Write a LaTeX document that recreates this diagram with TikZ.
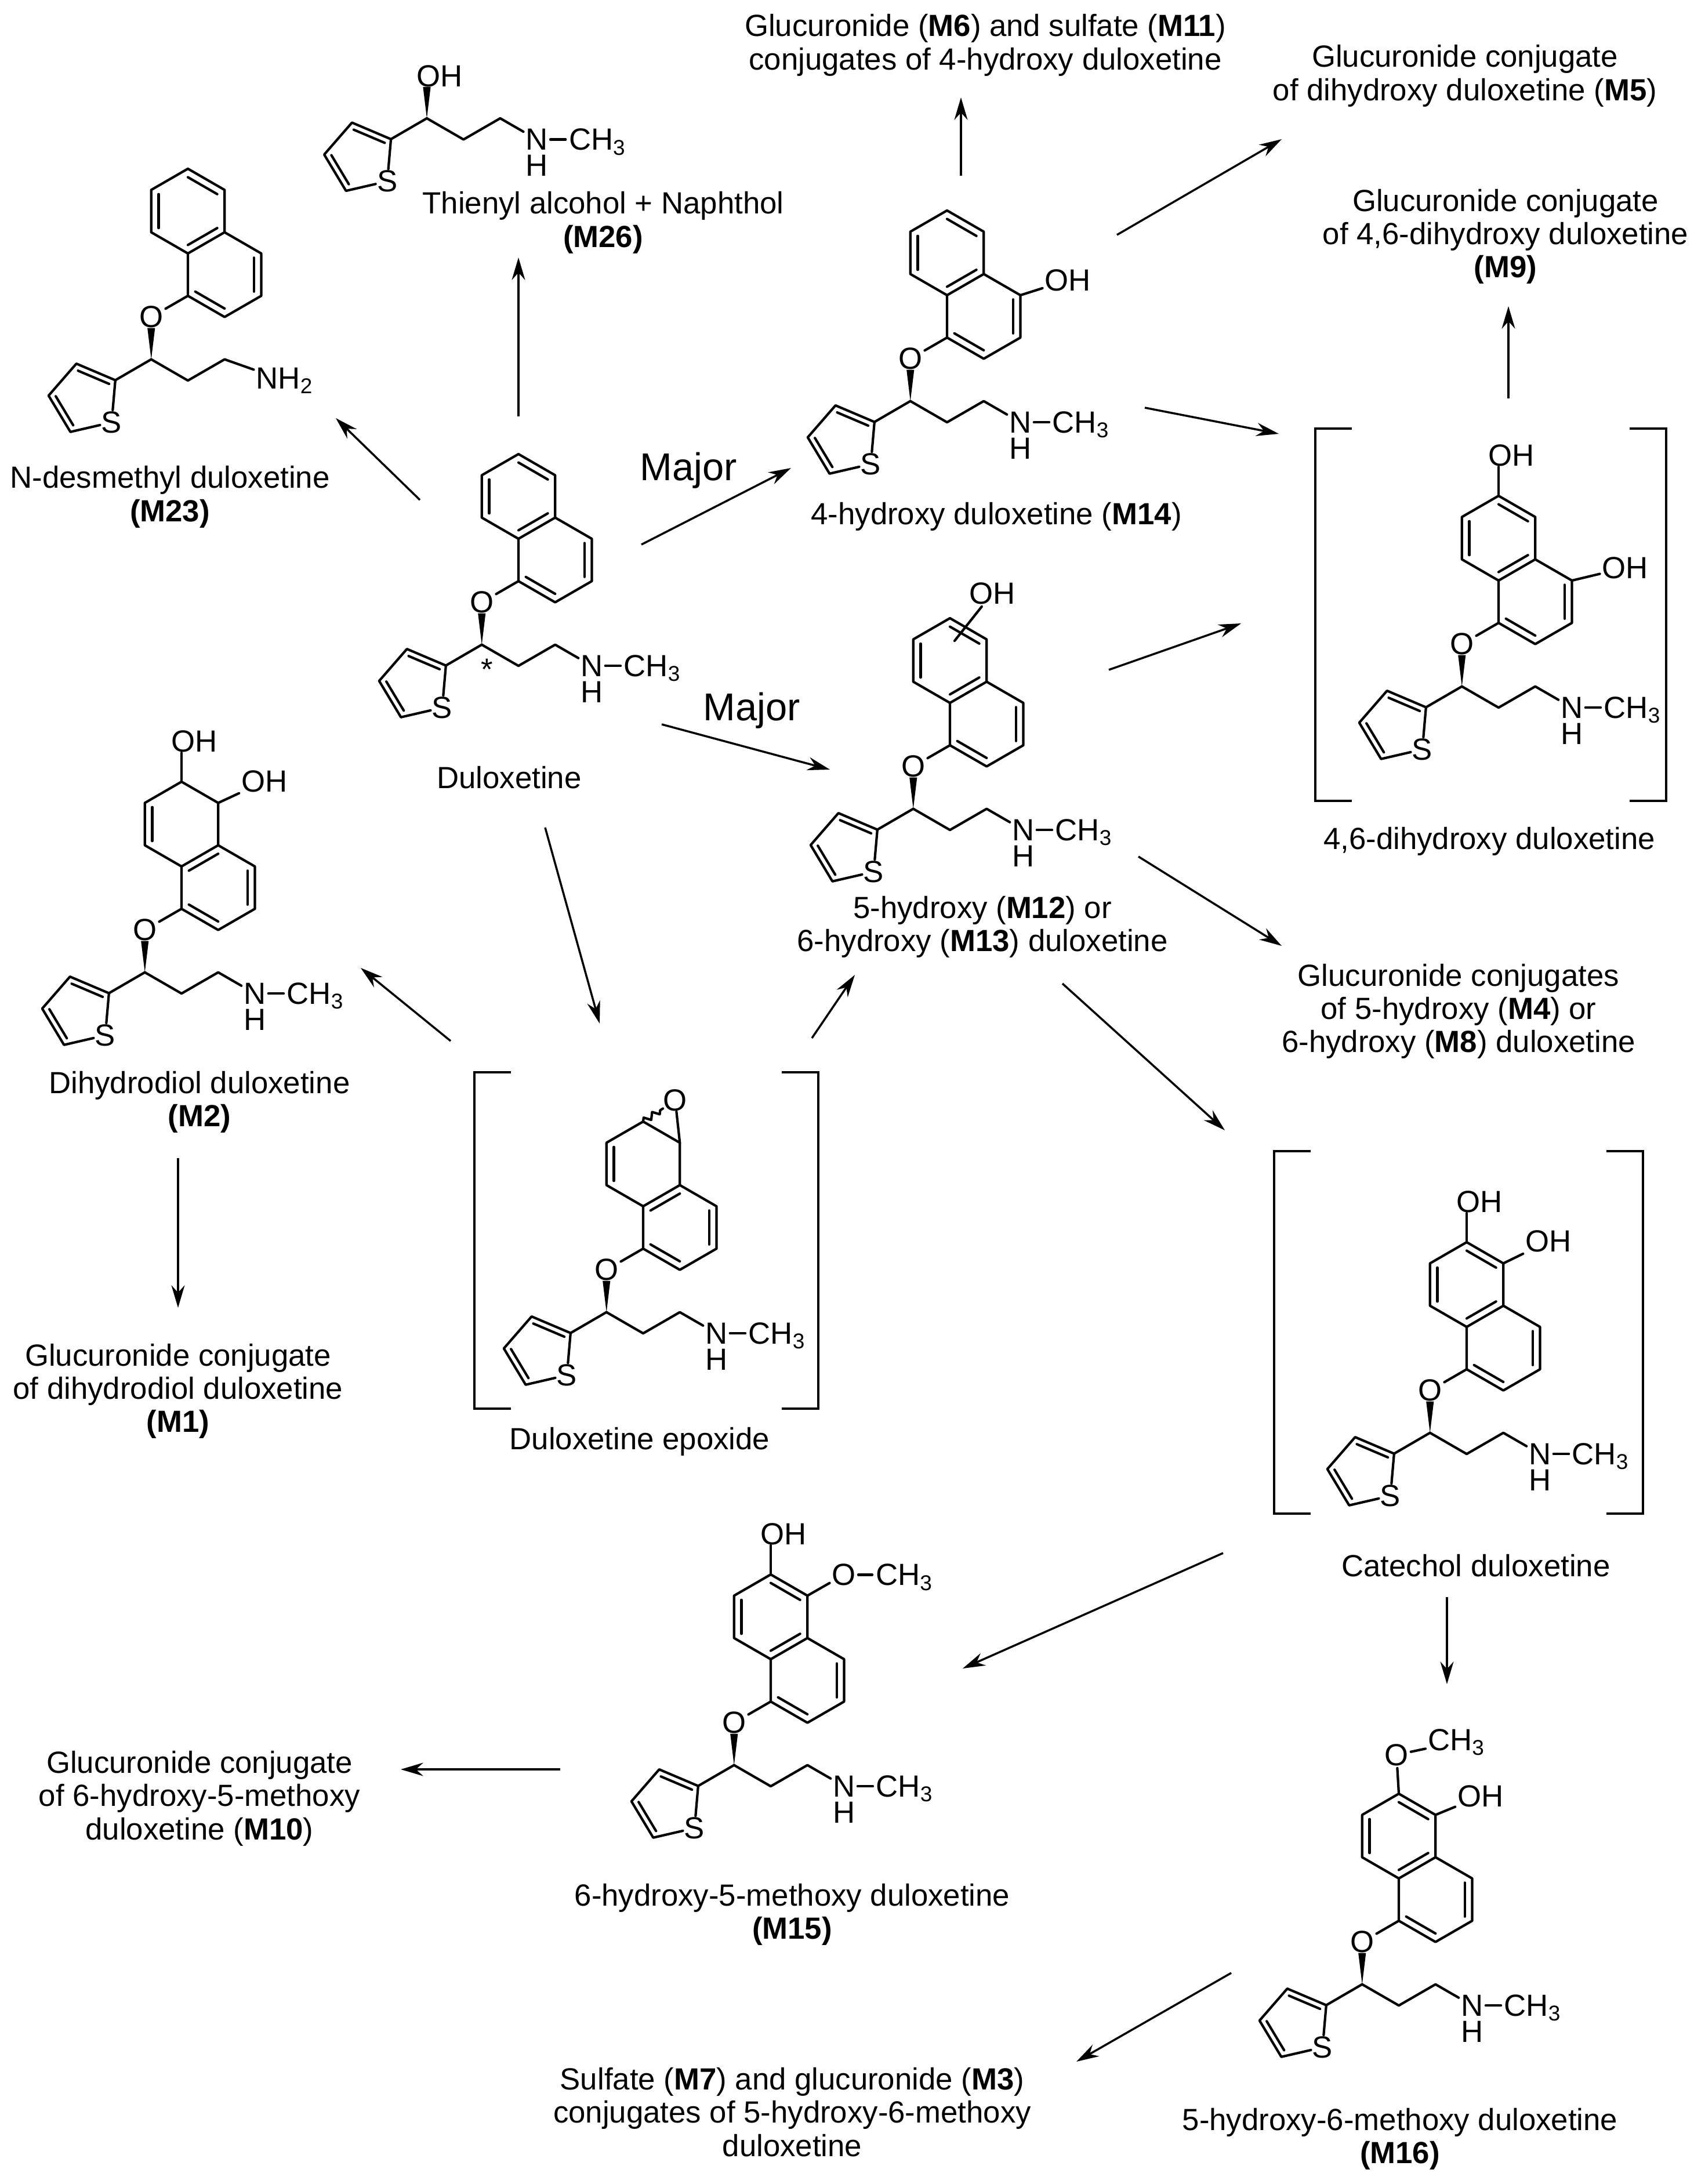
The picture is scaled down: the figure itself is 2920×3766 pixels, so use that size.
\documentclass[tikz,border=0pt]{standalone}
\usepackage{fontspec}
\setmainfont{Liberation Sans}
\usetikzlibrary{arrows.meta,calc,decorations.pathmorphing}

\tikzset{
  bond/.style={line width=1.2pt,line cap=round,line join=round},
  atom/.style={inner sep=1pt,font=\fontsize{15}{16}\selectfont},
  txt/.style={align=center,font=\fontsize{15}{16.3}\selectfont},
  conv/.style={-{Stealth[length=11pt,width=6.5pt]},line width=1pt},
  brk/.style={line width=1.2pt},
}

% inner line of a double bond, pulled toward the ring centre
\newcommand\dbl[3]{\draw[bond] ($(#1)!.2!(#3)$) -- ($(#2)!.2!(#3)$);}

\newcommand\ringcoords{%
  \coordinate (-ca) at (0,0); \coordinate (-cb) at (0.866,-1.5);
  \coordinate (-c6) at (0,1); \coordinate (-c5) at (0.866,0.5);
  \coordinate (-c4a) at (0.866,-0.5); \coordinate (-c8a) at (0,-1);
  \coordinate (-c8) at (-0.866,-0.5); \coordinate (-c7) at (-0.866,0.5);
  \coordinate (-c4) at (1.732,-1); \coordinate (-c3) at (1.732,-2);
  \coordinate (-c2) at (0.866,-2.5); \coordinate (-c1) at (0,-2);
  \draw[bond] (-c6) -- (-c5) -- (-c4a) -- (-c8a) -- (-c8) -- (-c7) -- cycle;
  \draw[bond] (-c4a) -- (-c4) -- (-c3) -- (-c2) -- (-c1) -- (-c8a);
  \dbl{-c4}{-c3}{-cb} \dbl{-c2}{-c1}{-cb}}

\newcommand\nme{%
  \node[atom] (-N) at (2.598,-0.5) {N};
  \draw[bond] (-N.east) -- ++(0.36,0);
  \node[atom,anchor=base west] (-Me) at ($(-N.base east)+(0.38,0)$) {CH\textsubscript{3}};
  \node[atom,inner sep=0pt] (-H) at ($(-N)+(0,-0.62)$) {H};}
\newcommand\nhh{%
  \node[atom,anchor=west] (-N) at (2.42,-0.5) {NH\textsubscript{2}};}

% thiophene, chiral carbon and amine chain; #1 = place of C*, #2 = amine
\newcommand\sidechain[2]{%
  \begin{scope}[shift={#1}]
    \coordinate (-cs) at (0,0);
    \coordinate (-k1) at (0.866,-0.5); \coordinate (-k2) at (1.732,0);
    #2
    \coordinate (-tc) at (-1.576,-0.93);
    \coordinate (-t2) at ($(-tc)+(31:0.85)$);
    \coordinate (-t3) at ($(-tc)+(103:0.85)$);
    \coordinate (-t4) at ($(-tc)+(175:0.85)$);
    \coordinate (-t5) at ($(-tc)+(247:0.85)$);
    \node[atom,inner sep=0.5pt] (-S) at ($(-tc)+(-41:0.85)$) {S};
    \draw[bond] (-cs) -- (-k1) -- (-k2) -- (-N);
    \draw[bond] (-cs) -- (-t2) -- (-t3) -- (-t4) -- (-t5) -- (-S) -- (-t2);
    \dbl{-t2}{-t3}{-tc} \dbl{-t4}{-t5}{-tc}
    \fill (-cs) -- (-0.09,0.74) -- (0.09,0.74) -- cycle;
  \end{scope}}

\tikzset{
  naph/.pic={\begin{scope}[x=.73cm,y=.73cm]
      \ringcoords
      \dbl{-c6}{-c5}{-ca} \dbl{-c7}{-c8}{-ca} \dbl{-c4a}{-c8a}{-ca}
    \end{scope}},
  dihnaph/.pic={\begin{scope}[x=.73cm,y=.73cm]
      \ringcoords
      \dbl{-c7}{-c8}{-ca} \dbl{-c4a}{-c8a}{-cb}
    \end{scope}},
  tail/.pic={\begin{scope}[x=.73cm,y=.73cm]
      \node[atom] (-O) at (-0.866,-2.5) {O};
      \draw[bond] (-c1) -- (-O);
      \sidechain{(-0.866,-3.5)}{\nme}
    \end{scope}},
  tailnh/.pic={\begin{scope}[x=.73cm,y=.73cm]
      \node[atom] (-O) at (-0.866,-2.5) {O};
      \draw[bond] (-c1) -- (-O);
      \sidechain{(-0.866,-3.5)}{\nhh}
    \end{scope}},
  alcohol/.pic={\begin{scope}[x=.73cm,y=.73cm]
      \sidechain{(0,0)}{\nme}
      \node[atom,anchor=west] (-OH) at (-0.3,1) {OH};
    \end{scope}},
}

\begin{document}
\begin{tikzpicture}[x=0.01cm,y=-0.01cm]
\useasboundingbox (0,0) rectangle (2920,3766);

% molecules
\pic (dul) at (894,856) {naph};   \pic (dul) at (894,856) {tail};
\node[atom] at ($(dul-cs)+(9,43)$) {*};
\pic (m26) at (736,204) {alcohol};
\pic (m23) at (324,364) {naph};   \pic (m23) at (324,364) {tailnh};
\pic (m14) at (1633,436) {naph};  \pic (m14) at (1633,436) {tail};
\pic (m12) at (1638,1139) {naph}; \pic (m12) at (1638,1139) {tail};
\pic (d46) at (2584,928) {naph};  \pic (d46) at (2584,928) {tail};
\pic (m2) at (313,1421) {dihnaph}; \pic (m2) at (313,1421) {tail};
\pic (ep) at (1109,2007) {dihnaph}; \pic (ep) at (1109,2007) {tail};
\pic (cat) at (2529,2215) {naph}; \pic (cat) at (2529,2215) {tail};
\pic (m15) at (1329,2788) {naph}; \pic (m15) at (1329,2788) {tail};
\pic (m16) at (2412,3166) {naph}; \pic (m16) at (2412,3166) {tail};

% substituents
\node[atom,anchor=west] (m14-OH) at ($(m14-c4)+(38,-26)$) {OH};
\draw[bond] (m14-c4) -- (m14-OH);
\node[atom] (m12-OH) at ($(m12-ca)+(73,-116)$) {OH};
\draw[bond] ($(m12-ca)+(8,-34)$) -- (m12-OH);
\node[atom,anchor=west] (d46-OHa) at ($(d46-c4)+(48,-22)$) {OH};
\draw[bond] (d46-c4) -- (d46-OHa);
\node[atom,anchor=west] (d46-OHb) at ($(d46-c6)+(-22,-70)$) {OH};
\draw[bond] (d46-c6) -- ++(0,-50);
\node[atom,anchor=west] (m2-OHa) at ($(m2-c5)+(36,-37)$) {OH};
\draw[bond] (m2-c5) -- (m2-OHa);
\node[atom,anchor=west] (m2-OHb) at ($(m2-c6)+(-22,-70)$) {OH};
\draw[bond] (m2-c6) -- ++(0,-50);
\node[atom,inner sep=0pt] (ep-Ox) at ($(ep-c5)+(-8,-73)$) {O};
\draw[bond] (ep-c5) -- (ep-Ox);
\draw[bond,decorate,decoration={zigzag,amplitude=1.5pt,segment length=5pt}] (ep-c6) -- (ep-Ox);
\node[atom,anchor=west] (cat-OHa) at ($(cat-c5)+(34,-38)$) {OH};
\draw[bond] (cat-c5) -- (cat-OHa);
\node[atom,anchor=west] (cat-OHb) at ($(cat-c6)+(-22,-70)$) {OH};
\draw[bond] (cat-c6) -- ++(0,-50);
\node[atom,anchor=west] (m15-OH) at ($(m15-c6)+(-22,-70)$) {OH};
\draw[bond] (m15-c6) -- ++(0,-50);
\node[atom] (m15-OMe) at ($(m15-c5)+(63,-36)$) {O};
\draw[bond] (m15-c5) -- (m15-OMe);
\draw[bond] (m15-OMe.east) -- ++(24,0);
\node[atom,anchor=base west] at ($(m15-OMe.base east)+(26,0)$) {CH\textsubscript{3}};
\node[atom] (m16-OMe) at ($(m16-c6)+(-4,-67)$) {O};
\draw[bond] (m16-c6) -- (m16-OMe);
\node[atom,anchor=west] (m16-Me) at ($(m16-c6)+(46,-89)$) {CH\textsubscript{3}};
\draw[bond] (m16-OMe) -- (m16-Me);
\node[atom,anchor=west] (m16-OH) at ($(m16-c5)+(34,-32)$) {OH};
\draw[bond] (m16-c5) -- (m16-OH);

% brackets
\foreach \l/\r/\t/\u in {818/1411/1849/2429, 2268/2873/739/1381, 2197/2833/1985/2610}{
  \draw[brk] (\l+63,\t) -- (\l,\t) -- (\l,\u) -- (\l+63,\u);
  \draw[brk] (\r-63,\t) -- (\r,\t) -- (\r,\u) -- (\r-63,\u);
}

% captions
\node[txt] (t-m6) at (1699,78) {Glucuronide (\textbf{M6}) and sulfate (\textbf{M11})\\conjugates of 4-hydroxy duloxetine};
\node[txt] (t-m5) at (2526,131) {Glucuronide conjugate\\of dihydroxy duloxetine (\textbf{M5})};
\node[txt] (t-m9) at (2596,408) {Glucuronide conjugate\\of 4,6-dihydroxy duloxetine\\\textbf{(M9)}};
\node[txt] (t-m26) at (1040,384) {Thienyl alcohol + Naphthol\\\textbf{(M26)}};
\node[txt] (t-m23) at (293,857) {N-desmethyl duloxetine\\\textbf{(M23)}};
\node[txt,font=\fontsize{19}{20}\selectfont] at (1187,811) {Major};
\node[txt,font=\fontsize{19}{20}\selectfont] at (1296,1225) {Major};
\node[txt] (t-m14) at (1718,891) {4-hydroxy duloxetine (\textbf{M14})};
\node[txt] (t-dul) at (878,1341) {Duloxetine};
\node[txt] (t-d46) at (2568,1451) {4,6-dihydroxy duloxetine};
\node[txt] (t-m12) at (1694,1598) {5-hydroxy (\textbf{M12}) or\\6-hydroxy (\textbf{M13}) duloxetine};
\node[txt] (t-m4) at (2515,1744) {Glucuronide conjugates\\of 5-hydroxy (\textbf{M4}) or\\6-hydroxy (\textbf{M8}) duloxetine};
\node[txt] (t-m2) at (344,1900) {Dihydrodiol duloxetine\\\textbf{(M2)}};
\node[txt] (t-m1) at (307,2399) {Glucuronide conjugate\\of dihydrodiol duloxetine\\\textbf{(M1)}};
\node[txt] (t-ep) at (1103,2486) {Duloxetine epoxide};
\node[txt] (t-cat) at (2545,2700) {Catechol duloxetine};
\node[txt] (t-m10) at (344,3101) {Glucuronide conjugate\\of 6-hydroxy-5-methoxy\\duloxetine (\textbf{M10})};
\node[txt] (t-m15) at (1366,3301) {6-hydroxy-5-methoxy duloxetine\\\textbf{(M15)}};
\node[txt] (t-m7) at (1366,3642) {Sulfate (\textbf{M7}) and glucuronide (\textbf{M3})\\conjugates of 5-hydroxy-6-methoxy\\duloxetine};
\node[txt] (t-m16) at (2414,3688) {5-hydroxy-6-methoxy duloxetine\\\textbf{(M16)}};

% metabolic steps
\foreach \n/\xs/\ys/\xe/\ye in {
  r1/894/718/894/444, r2/724/862/579/721,
  r3/1106/939/1364/807, r4/1141/1249/1431/1327,
  r5/940/1427/1034/1765, r6/777/1795/622/1669,
  r7/1400/1790/1474/1681, r8/307/1997/307/2255,
  r9/1657/303/1657/168, r10/1926/405/2210/240,
  r11/1974/703/2205/748, r12/1912/1155/2140/1075,
  r13/1963/1477/2210/1631, r14/1832/1696/2112/1949,
  r15/2601/687/2601/528, r16/2109/2678/1660/2877,
  r17/2495/2754/2495/2904, r18/966/3051/691/3051,
  r19/2123/3402/1856/3555}{
  \coordinate (\n-s) at (\xs,\ys); \coordinate (\n-e) at (\xe,\ye);
  \draw[conv] (\n-s) -- (\n-e);
}
\end{tikzpicture}
\end{document}
